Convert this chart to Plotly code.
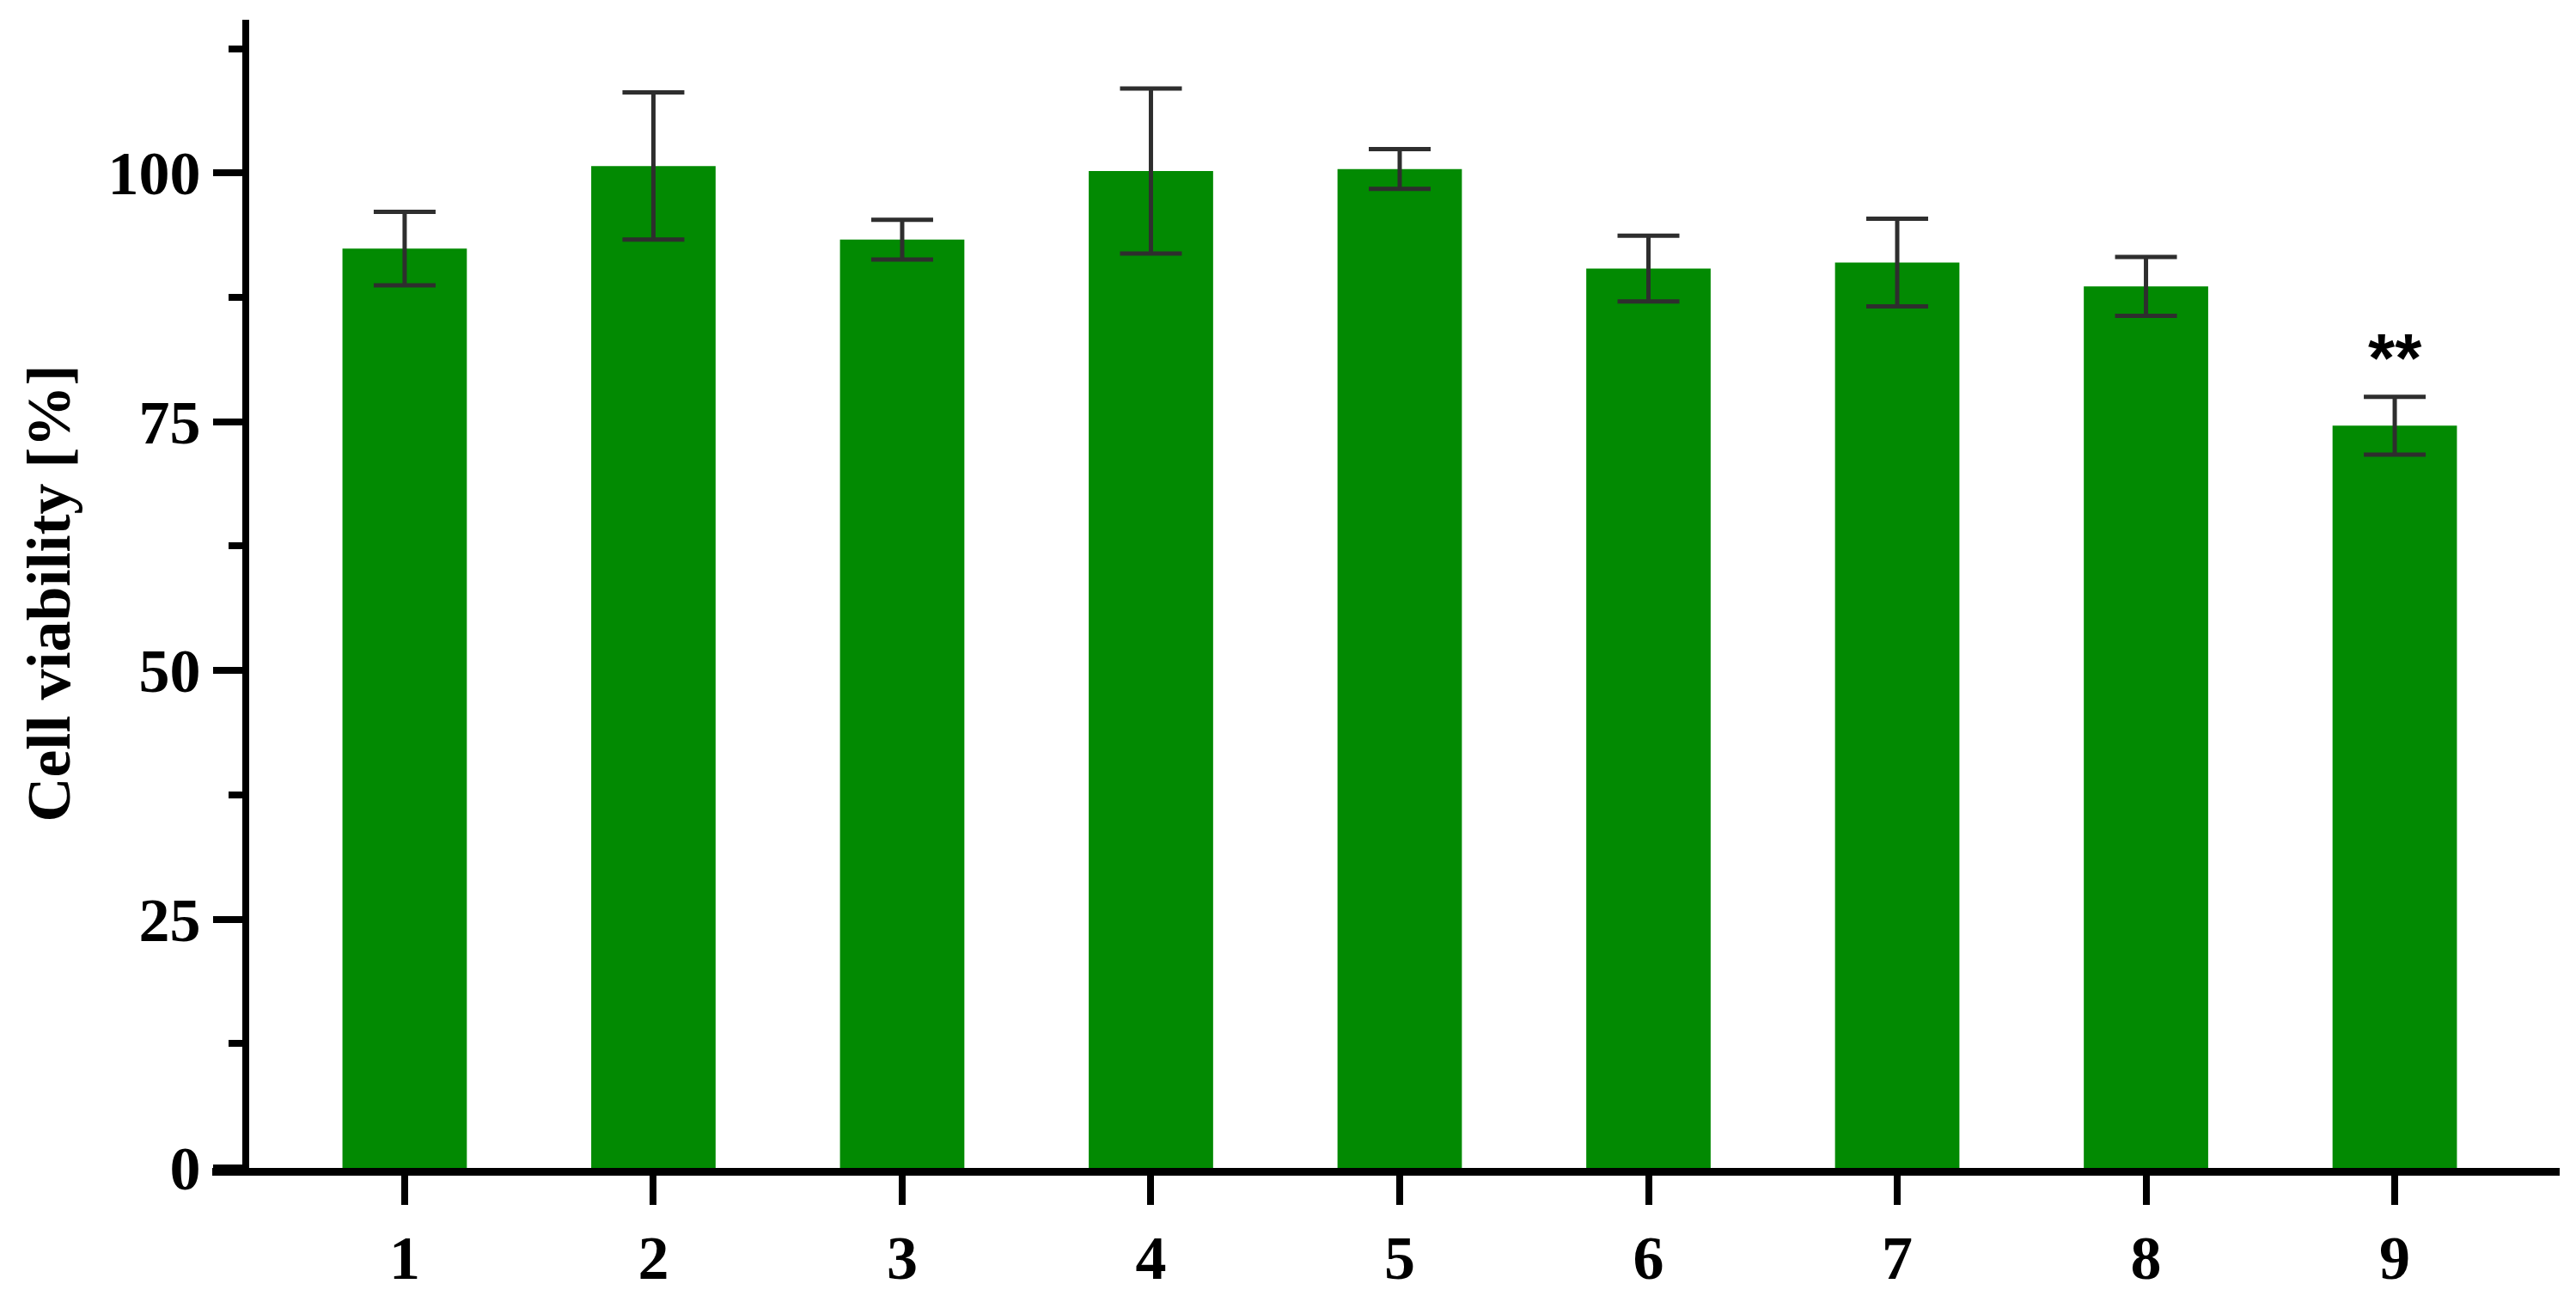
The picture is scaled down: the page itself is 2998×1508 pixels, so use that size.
import plotly.graph_objects as go

# data
groups = ["1", "2", "3", "4", "5", "6", "7", "8", "9"]
viability = [92.4, 100.7, 93.3, 100.2, 100.4, 90.4, 91.0, 88.6, 74.6]
sem = [3.7, 7.4, 2.0, 8.3, 2.0, 3.3, 4.4, 2.95, 2.9]
signif = ["", "", "", "", "", "", "", "", "**"]
y_ticks = [0, 25, 50, 75, 100]

W, H = 2998, 1508
# page body has an 8px margin, so shift the plot area back by that
ml, mr, mt, mb = 239, 27, 15, 152
green = "#028A02"
serif = "Liberation Serif, Times New Roman, serif"

fig = go.Figure(go.Bar(
    x=groups,
    y=viability,
    width=0.5,
    marker=dict(color=green, line=dict(width=0)),
    error_y=dict(type="data", array=sem, visible=True,
                 color="#2e2e2e", thickness=5, width=36),
    showlegend=False
))

# significance stars above the error bar (x given as category index)
for i, (v, e, s) in enumerate(zip(viability, sem, signif)):
    if s:
        fig.add_annotation(x=i, y=v + e, text=s, showarrow=False,
                           yanchor="middle", yshift=45,
                           font=dict(family="Liberation Sans, Arial", size=80,
                                     color="black", weight="bold"))

fig.add_annotation(xref="paper", yref="paper", x=-0.0697, y=0.5,
                   text="Cell viability [%]", textangle=-90, showarrow=False,
                   xanchor="center", yanchor="middle",
                   font=dict(family=serif, size=72, color="black", weight="bold"))

fig.update_layout(
    width=W, height=H,
    margin=dict(l=ml, r=mr, t=mt, b=mb),
    plot_bgcolor="white", paper_bgcolor="white",
    xaxis=dict(
        type="category",
        range=[-0.7735, 8.663],
        showgrid=False, zeroline=False,
        showline=True, linecolor="black", linewidth=9,
        ticks="outside", ticklen=34, tickwidth=8, tickcolor="black",
        tickfont=dict(family=serif, size=72, color="black", weight="bold"),
    ),
    yaxis=dict(
        anchor="free", position=0.01428,
        range=[0, 115.4],
        tickvals=y_ticks,
        showgrid=False, zeroline=False,
        showline=True, linecolor="black", linewidth=8,
        ticks="outside", ticklen=34, tickwidth=8, tickcolor="black",
        tickfont=dict(family=serif, size=72, color="black", weight="bold"),
        minor=dict(dtick=12.5, tick0=0, ticks="outside", ticklen=16,
                   tickwidth=8, tickcolor="black", showgrid=False),
    ),
)

fig.write_html("out.html")
